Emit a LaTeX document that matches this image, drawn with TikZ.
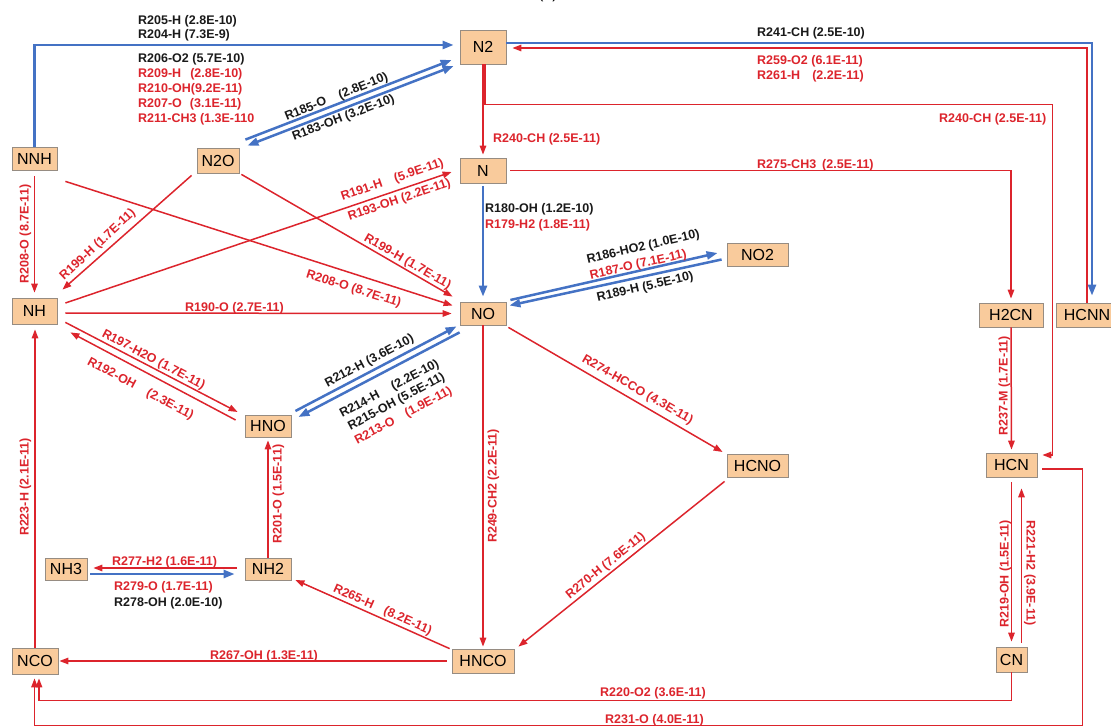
\documentclass[tikz,border=0pt]{standalone}
\usepackage{fontspec}
\setmainfont{Liberation Sans}
\usetikzlibrary{arrows.meta,calc}
\definecolor{rr}{RGB}{220,36,44}
\definecolor{bb}{RGB}{68,114,196}
\definecolor{nf}{RGB}{249,203,156}
\definecolor{nb}{RGB}{150,140,130}
\begin{document}
\begin{tikzpicture}[x=1pt,y=-1pt,
  sp/.style={draw=nb, line width=0.8pt, fill=nf, font=\fontsize{16}{18}\selectfont, inner sep=0pt, text height=11.5pt, text depth=0pt},
  lb/.style={font=\fontsize{12.5}{14}\selectfont\bfseries, inner sep=0pt, text height=9pt, text depth=0pt},
  lr/.style={lb, text=rr},
  lk/.style={lb, text=black!90},
  ra/.style={draw=rr, line width=1.5pt, -{Triangle[length=9pt,width=6.5pt]}},
  ba/.style={draw=bb, line width=2.5pt, -{Triangle[length=11pt,width=8pt]}},
]
\useasboundingbox (0,0) rectangle (1111,727);

% caption (cut off at top)
\node[font=\fontsize{16}{18}\selectfont, inner sep=0pt] (cap) at (548,-6) {(b)};

% species
\node[sp, minimum width=46pt, minimum height=34pt] (N2) at (483,47) {N2};
\node[sp, minimum width=45pt, minimum height=23pt] (NNH) at (34.5,158.5) {NNH};
\node[sp, minimum width=42pt, minimum height=25pt] (N2O) at (218,160.5) {N2O};
\node[sp, minimum width=46pt, minimum height=25pt] (N) at (483,170.5) {N};
\node[sp, minimum width=46pt, minimum height=23pt] (NO) at (483,313.5) {NO};
\node[sp, minimum width=61pt, minimum height=23pt] (NO2) at (757.5,254.5) {NO2};
\node[sp, minimum width=45pt, minimum height=26pt] (NH) at (34.5,311) {NH};
\node[sp, minimum width=64pt, minimum height=24pt] (H2CN) at (1011,315) {H2CN};
\node[sp, minimum width=62pt, minimum height=24pt] (HCNN) at (1087,315) {HCNN};
\node[sp, minimum width=46pt, minimum height=22pt] (HNO) at (268,426) {HNO};
\node[sp, minimum width=61pt, minimum height=23pt] (HCNO) at (757.5,466) {HCNO};
\node[sp, minimum width=51pt, minimum height=24pt] (HCN) at (1011.5,465) {HCN};
\node[sp, minimum width=42pt, minimum height=22pt] (NH3) at (66,569) {NH3};
\node[sp, minimum width=46pt, minimum height=22pt] (NH2) at (268,569) {NH2};
\node[sp, minimum width=46pt, minimum height=26pt] (NCO) at (35,661) {NCO};
\node[sp, minimum width=62pt, minimum height=24pt] (HNCO) at (483,661) {HNCO};
\node[sp, minimum width=31pt, minimum height=25pt] (CN) at (1011.5,659.5) {CN};

% connectors
\draw[ba, shorten >=6pt] (NNH.north) |- ($(N2.west)+(0,-2)$);
\draw[ba] ($(N2O.north east)+(6,-8)$) -- ($(N2.west)+(-8,13)$);
\draw[ba, {Triangle[length=11pt,width=8pt]}-{Triangle[length=11pt,width=8pt]}] ($(N2.west)+(-6,19)$) -- ($(N2O.north east)+(8,-2)$);
\draw[ra, shorten >=3pt] (N2.south) -- (N.north);
\draw[ra, shorten >=5pt] ($(N2.south)+(2,0)$) -- ++(0,40) -| ($(HCN.east)+(15,-10)$) -- ($(HCN.east)+(0,-10)$);
\draw[ba, shorten >=7pt] ($(N2.east)+(0,-4)$) -| ($(HCNN.north)+(5,0)$);
\draw[ra, shorten >=6pt] (HCNN.north) |- ($(N2.east)+(0,1)$);
\draw[ra, shorten <=4pt, shorten >=4pt] (N.east) -| (H2CN.north);
\draw[ra, shorten <=6pt, shorten >=5pt] (NNH.south) -- (NNH.south |- NH.north);
\draw[ra] ($(NNH.south east)+(8,11)$) -- ($(NO.west)+(-7,-8)$);
\draw[ra] ($(N2O.south west)+(-5,2)$) -- ($(NH.north east)+(5,-8)$);
\draw[ra] ($(N2O.south east)+(2,1)$) -- ($(NO.north west)+(-7,-5)$);
\draw[ra] ($(NH.east)+(8,-8)$) -- ($(N.west)+(-8,1.5)$);
\draw[ra] ($(NH.east)+(8,2)$) -- ($(NO.west)+(-8,0)$);
\draw[ra] ($(NH.south east)+(8,-2)$) -- ($(HNO.west)+(-7,-14)$);
\draw[ra] ($(HNO.west)+(-9,-6)$) -- ($(NH.south east)+(13,8)$);
\draw[ba] ($(HNO.east)+(4,-15)$) -- ($(NO.south west)+(-3,1)$);
\draw[ba] ($(NO.south west)+(0,7)$) -- ($(HNO.east)+(7,-9)$);
\draw[ba, shorten <=3pt, shorten >=5pt] (N.south) -- (NO.north);
\draw[ba] ($(NO.east)+(4,-13.5)$) -- ($(NO2.west)+(-9,-1.5)$);
\draw[ba] ($(NO2.west)+(-5,5)$) -- ($(NO.east)+(3,-8)$);
\draw[ra] ($(NO.south east)+(2,2)$) -- ($(HCNO.west)+(-4,-14)$);
\draw[ra, shorten >=2pt] (NO.south) -- (HNCO.north);
\draw[ra] ($(HCNO.south west)+(-2,3.5)$) -- ($(HNCO.north east)+(4,-2)$);
\draw[ra] ($(HNCO.north west)+(-2,0)$) -- ($(NH2.east)+(4,11)$);
\draw[ra, shorten <=5pt, shorten >=1pt] (HNCO.west) -- (NCO.east);
\draw[ra, shorten >=5pt] (NCO.north) -- (NCO.north |- NH.south);
\draw[ra, shorten >=3pt] (NH2.north) -- (HNO.south);
\draw[ra, shorten <=8pt, shorten >=6pt] ($(NH2.west)+(0,-1)$) -- ($(NH3.east)+(0,-1)$);
\draw[ba, shorten <=3pt, shorten >=10pt] ($(NH3.east)+(0,5)$) -- ($(NH2.west)+(0,5)$);
\draw[ra, shorten >=4pt] (CN.south) -- ++(0,28) -| ($(NCO.south)+(4,0)$);
\draw[ra, shorten >=4pt] ($(HCN.east)+(5,4)$) -- ++(40,0) -- ++(0,256.5) -| ($(NCO.south)+(-0.5,0)$);
\draw[ra, shorten >=3pt] (H2CN.south) -- (HCN.north);
\draw[ra, shorten <=5pt, shorten >=5pt] (HCN.south) -- (CN.north);
\draw[ra, shorten >=11pt] ($(CN.north)+(10,-4)$) -- ($(HCN.south)+(10,0)$);

% horizontal labels
\node[lk, anchor=west] (l205) at (138,20) {R205-H (2.8E-10)};
\node[lk, anchor=west] (l204) at (138,34) {R204-H (7.3E-9)};
\node[lk, anchor=west] (l206) at (138,58) {R206-O2 (5.7E-10)};
\node[lr, anchor=west] (l209) at (138,73) {R209-H\hspace{9pt}(2.8E-10)};
\node[lr, anchor=west] (l210) at (138,88) {R210-OH(9.2E-11)};
\node[lr, anchor=west] (l207) at (138,103) {R207-O\hspace{8pt}(3.1E-11)};
\node[lr, anchor=west] (l211) at (138,118) {R211-CH3 (1.3E-110};
\node[lk, anchor=west] (l241) at (757,32) {R241-CH (2.5E-10)};
\node[lr, anchor=west] (l259) at (757,60) {R259-O2 (6.1E-11)};
\node[lr, anchor=west] (l261) at (757,75) {R261-H\hspace{12pt}(2.2E-11)};
\node[lr, anchor=west] (l240b) at (939,118) {R240-CH (2.5E-11)};
\node[lr, anchor=west] (l240a) at (493,138) {R240-CH (2.5E-11)};
\node[lr, anchor=west] (l275) at (757,164) {R275-CH3\hspace{6pt}(2.5E-11)};
\node[lk, anchor=west] (l180) at (485,208) {R180-OH (1.2E-10)};
\node[lr, anchor=west] (l179) at (485,224) {R179-H2 (1.8E-11)};
\node[lr, anchor=west] (l190) at (185,307) {R190-O (2.7E-11)};
\node[lr, anchor=west] (l277) at (112,561) {R277-H2 (1.6E-11)};
\node[lr, anchor=west] (l279) at (114,586) {R279-O (1.7E-11)};
\node[lk, anchor=west] (l278) at (114,602) {R278-OH (2.0E-10)};
\node[lr, anchor=west] (l267) at (210,655) {R267-OH (1.3E-11)};
\node[lr, anchor=west] (l220) at (600,692) {R220-O2 (3.6E-11)};
\node[lr, anchor=west] (l231) at (605,719) {R231-O (4.0E-11)};

% vertical labels
\node[lr, rotate=90] (l208a) at (24,234) {R208-O (8.7E-11)};
\node[lr, rotate=90] (l223) at (24,487) {R223-H (2.1E-11)};
\node[lr, rotate=90] (l201) at (277,494) {R201-O (1.5E-11)};
\node[lr, rotate=90] (l249) at (492,486) {R249-CH2 (2.2E-11)};
\node[lr, rotate=90] (l237) at (1003,386) {R237-M (1.7E-11)};
\node[lr, rotate=90] (l219) at (1004,574) {R219-OH (1.5E-11)};
\node[lr, rotate=-90] (l221) at (1031,573) {R221-H2 (3.9E-11)};

% slanted labels
\node[lr, rotate=43] (l199a) at (97,244) {R199-H (1.7E-11)};
\node[lr, rotate=-30] (l199b) at (408,261) {R199-H (1.7E-11)};
\node[lr, rotate=-17.5] (l208b) at (354,288) {R208-O (8.7E-11)};
\node[lr, rotate=19] (l191) at (392,179) {R191-H\hspace{13pt}(5.9E-11)};
\node[lr, rotate=19] (l193) at (399,199) {R193-OH (2.2E-11)};
\node[lk, rotate=22] (l185) at (336,96) {R185-O\hspace{14pt}(2.8E-10)};
\node[lk, rotate=21] (l183) at (343,117) {R183-OH (3.2E-10)};
\node[lr, rotate=-28] (l197) at (154,359) {R197-H2O (1.7E-11)};
\node[lr, rotate=-28] (l192) at (141,388) {R192-OH\hspace{14pt}(2.3E-11)};
\node[lk, rotate=28] (l212) at (369,360) {R212-H (3.6E-10)};
\node[lk, rotate=28] (l214) at (389,388) {R214-H\hspace{15pt}(2.2E-10)};
\node[lk, rotate=28] (l215) at (396,401) {R215-OH (5.5E-11)};
\node[lr, rotate=28] (l213) at (403,415) {R213-O\hspace{13pt}(1.9E-11)};
\node[lk, rotate=13] (l186) at (643,246) {R186-HO2 (1.0E-10)};
\node[lr, rotate=13] (l187) at (638,264) {R187-O (7.1E-11)};
\node[lk, rotate=13] (l189) at (645,286) {R189-H (5.5E-10)};
\node[lr, rotate=-30] (l274) at (638,389) {R274-HCCO (4.3E-11)};
\node[lr, rotate=39] (l270) at (605,565) {R270-H (7.6E-11)};
\node[lr, rotate=-24] (l265) at (383,609) {R265-H\hspace{12pt}(8.2E-11)};
\end{tikzpicture}
\end{document}
